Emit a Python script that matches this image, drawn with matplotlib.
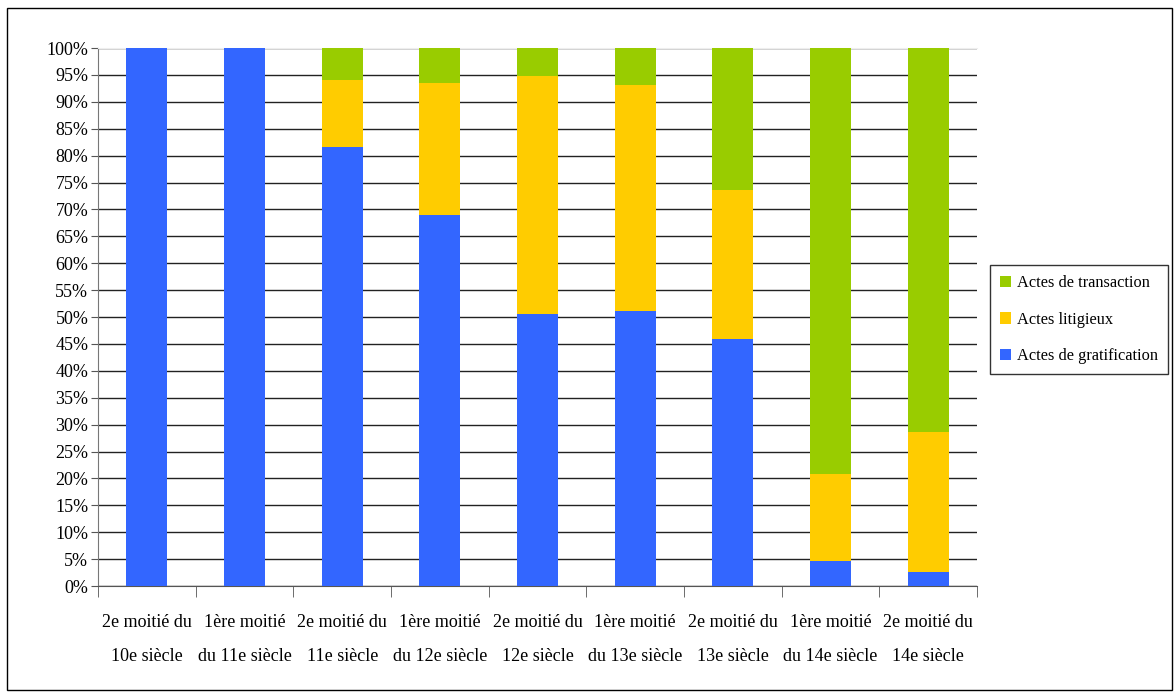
import numpy as np
import matplotlib.pyplot as plt
from matplotlib.patches import Rectangle

plt.rcParams['font.family'] = ['Liberation Serif', 'DejaVu Serif']

categories = ['2e moitié du\n10e siècle', '1ère moitié\ndu 11e siècle',
              '2e moitié du\n11e siècle', '1ère moitié\ndu 12e siècle',
              '2e moitié du\n12e siècle', '1ère moitié\ndu 13e siècle',
              '2e moitié du\n13e siècle', '1ère moitié\ndu 14e siècle',
              '2e moitié du\n14e siècle']
gratification = [100, 100, 81.6, 69.0, 50.6, 51.1, 45.9, 4.6, 2.6]
litigieux = [0, 0, 12.5, 24.5, 44.2, 42.0, 27.7, 16.2, 26.0]
transaction = [0, 0, 5.9, 6.5, 5.2, 6.9, 26.4, 79.2, 71.4]

c_grat = '#3366ff'
c_lit = '#ffcc00'
c_trans = '#99cc00'

fig = plt.figure(figsize=(11.74, 6.95), dpi=100)
ax = fig.add_axes([0.0835, 0.1568, 0.7487, 0.7741])

x = np.arange(len(categories))
g = np.array(gratification)
l = np.array(litigieux)
t = np.array(transaction)
w = 0.42
ax.bar(x, g, w, color=c_grat, label='Actes de gratification', zorder=3)
ax.bar(x, l, w, bottom=g, color=c_lit, label='Actes litigieux', zorder=3)
ax.bar(x, t, w, bottom=g + l, color=c_trans, label='Actes de transaction', zorder=3)

ax.set_xlim(-0.5, len(categories) - 0.5)
ax.set_ylim(0, 100)
ax.set_yticks(np.arange(0, 101, 5))
ax.set_yticklabels(['%d%%' % v for v in range(0, 101, 5)], fontsize=13)
ax.yaxis.grid(True, color='#222222', lw=1)
ax.set_axisbelow(True)

ax.set_xticks(x)
ax.set_xticklabels(categories, fontsize=13, linespacing=2.3)
ax.set_xticks(np.arange(-0.5, len(categories), 1), minor=True)
ax.tick_params(axis='x', which='major', length=0, pad=20)
ax.tick_params(axis='x', which='minor', length=8, color='#555555', direction='out')
ax.tick_params(axis='y', length=5, color='#555555', pad=2)

ax.spines['right'].set_visible(False)
ax.spines['top'].set_color('#eeeeee')
ax.spines['left'].set_color('#777777')
ax.spines['bottom'].set_color('#555555')

handles, labels = ax.get_legend_handles_labels()
leg = fig.legend(handles[::-1], labels[::-1], loc='center left',
                 bbox_to_anchor=(0.843, 0.54), fontsize=11.8, frameon=True,
                 fancybox=False, edgecolor='black', handlelength=0.7,
                 handleheight=0.7, handletextpad=0.35, labelspacing=1.25,
                 borderpad=0.6, borderaxespad=0)
leg.get_frame().set_linewidth(1)

fig.patches.append(Rectangle((0.006, 0.007), 0.992, 0.982, transform=fig.transFigure,
                             fill=False, edgecolor='black', lw=1))

fig.savefig('out.png', dpi=100)
